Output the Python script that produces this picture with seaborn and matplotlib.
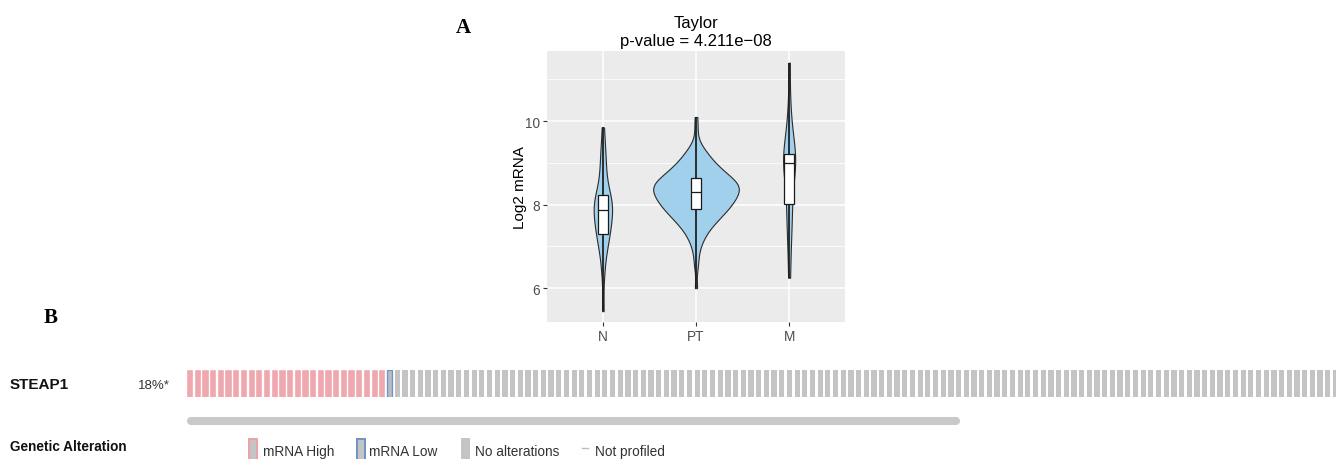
import numpy as np
import pandas as pd
import matplotlib
matplotlib.use("Agg")
import matplotlib.pyplot as plt
from matplotlib.lines import Line2D
from matplotlib.patches import Rectangle
import seaborn as sns

# ---------------- Panel A data (Taylor, Log2 mRNA) ----------------
groups = ["N", "PT", "M"]
n_values = [5.45, 6.35, 6.70, 6.95, 7.10, 7.20, 7.27, 7.30, 7.42, 7.52,
            7.60, 7.68, 7.76, 7.82, 7.87, 7.92, 7.98, 8.03, 8.08, 8.13,
            8.18, 8.22, 8.38, 8.55, 8.78, 9.00, 9.15, 9.40, 9.85]
pt_levels = [6.0, 6.5, 6.7, 6.9, 7.0, 7.1, 7.2, 7.3, 7.4, 7.5,
             7.6, 7.7, 7.8, 7.9, 8.0, 8.1, 8.2, 8.3, 8.4, 8.5, 8.6,
             8.7, 8.8, 8.9, 9.0, 9.1, 9.2, 9.3, 9.4, 9.5, 9.8, 10.1]
pt_counts = [1, 1, 1, 1, 1, 1, 2, 2, 3, 3,
             5, 5, 6, 7, 8, 8, 9, 9, 10, 10, 8,
             7, 6, 5, 4, 3, 3, 2, 1, 1, 1, 1]
m_values = [6.25, 6.90, 7.40, 7.60, 7.95, 8.10, 8.50, 8.80, 8.95, 9.00,
            9.05, 9.10, 9.15, 9.20, 9.24, 9.60, 9.90, 10.30, 11.40]
y_major = [6, 8, 10]
y_minor = [7, 9, 11]
title_text = "Taylor\np-value = 4.211e\u221208"
ylabel_text = "Log2 mRNA"

# ---------------- Panel B data (oncoprint) ----------------
gene_name = "STEAP1"
altered_pct = "18%*"
alteration_types = ["mRNA High", "mRNA Low", "No alterations"]
alteration_counts = [26, 1, 123]
legend_labels = ["mRNA High", "mRNA Low", "No alterations", "Not profiled"]
track_title = "Genetic Alteration"

# ---------------- styling ----------------
plt.rcParams["font.family"] = ["Liberation Sans", "DejaVu Sans"]
W, H = 1336, 460
fig = plt.figure(figsize=(W / 100, H / 100), dpi=100)


def fx(px):
    return px / W


def fy(py):
    return 1 - py / H


# ---------------- Panel A ----------------
pt_values = np.repeat(pt_levels, pt_counts)
df = pd.DataFrame({
    "group": ["N"] * len(n_values) + ["PT"] * len(pt_values) + ["M"] * len(m_values),
    "value": np.concatenate([n_values, pt_values, m_values]),
})

axA = fig.add_axes([fx(547), fy(323), fx(845) - fx(547), fy(52) - fy(323)])
axA.set_facecolor("#EBEBEB")
sns.violinplot(data=df, x="group", y="value", order=groups, ax=axA,
               inner=None, cut=0, density_norm="count", width=0.92,
               color="#a0d0eb", saturation=1, linecolor="#2b2b2b",
               linewidth=0.8, bw_adjust=0.75)
sns.boxplot(data=df, x="group", y="value", order=groups, ax=axA,
            width=0.11, color="white", saturation=1, linecolor="#1a1a1a",
            linewidth=0.9, whis=(0, 100), showfliers=False,
            whiskerprops={"linewidth": 1.25}, capprops={"linewidth": 0})

axA.set_xlim(-0.6, 2.6)
axA.set_ylim(5.19, 11.68)
axA.set_yticks(y_major)
axA.set_yticks(y_minor, minor=True)
axA.set_axisbelow(True)
axA.grid(True, which="major", axis="both", color="white", linewidth=1.1)
axA.grid(True, which="minor", axis="y", color="white", linewidth=0.55)
for s in axA.spines.values():
    s.set_visible(False)
axA.tick_params(which="major", length=3, width=0.8, color="#333333",
                labelcolor="#4D4D4D", labelsize=9.8, pad=2)
axA.tick_params(which="minor", length=0)
axA.set_xlabel("")
axA.set_ylabel(ylabel_text, fontsize=11, color="black")
axA.yaxis.set_label_coords((527 - 547) / 298, 0.5)

t_lines = title_text.split("\n")
fig.text(fx(696), fy(28), t_lines[0], ha="center", va="baseline", fontsize=12)
fig.text(fx(696), fy(46), t_lines[1], ha="center", va="baseline", fontsize=12)

# panel letters
fig.text(fx(456), fy(33), "A", fontsize=15, fontweight="bold",
         family=["Liberation Serif", "DejaVu Serif"], va="baseline")
fig.text(fx(44), fy(323), "B", fontsize=15, fontweight="bold",
         family=["Liberation Serif", "DejaVu Serif"], va="baseline")

# ---------------- Panel B ----------------
fill_colors = {"mRNA High": "#eda9af", "mRNA Low": "#b6bcc8", "No alterations": "#c4c4c4"}
edge_colors = {"mRNA High": "#f2a2a9", "mRNA Low": "#6f93c4", "No alterations": "none"}
edge_widths = {"mRNA High": 0.4, "mRNA Low": 0.9, "No alterations": 0.0}
samples = np.repeat(alteration_types, alteration_counts)
n_samples = len(samples)
pitch = 7.69
axB = fig.add_axes([fx(187), fy(398), n_samples * pitch / W, fy(371) - fy(398)])
axB.bar(np.arange(n_samples), np.ones(n_samples), width=0.68, align="edge",
        color=[fill_colors[s] for s in samples],
        edgecolor=[edge_colors[s] for s in samples],
        linewidth=[edge_widths[s] for s in samples])
axB.set_xlim(0, n_samples)
axB.set_ylim(0, 1)
axB.axis("off")

# scroll bar
fig.add_artist(Line2D([fx(191), fx(956)], [fy(421.7), fy(421.7)], lw=5.8,
                      color="#c9c9c9", solid_capstyle="round",
                      transform=fig.transFigure))

fig.text(fx(10), fy(389), gene_name, fontsize=11, fontweight="bold",
         va="baseline", color="#111111")
fig.text(fx(138), fy(389), altered_pct, fontsize=9.5, va="baseline", color="#333333")
fig.text(fx(10), fy(451), track_title, fontsize=9.8, fontweight="bold",
         va="baseline", color="#111111")

# legend
legend_fill = {"mRNA High": "#c4c4c4", "mRNA Low": "#c4c4c4", "No alterations": "#c4c4c4"}
legend_edge = {"mRNA High": "#f0a0a7", "mRNA Low": "#6f93c4", "No alterations": "#c4c4c4"}
sw = [(249, 257, "mRNA High"), (357, 364.5, "mRNA Low"), (462, 469, "No alterations")]
for x0, x1, lab in sw:
    fig.add_artist(Rectangle((fx(x0), fy(461)), fx(x1) - fx(x0), fy(440) - fy(461),
                             facecolor=legend_fill[lab], edgecolor=legend_edge[lab],
                             linewidth=1.4, transform=fig.transFigure))
fig.add_artist(Line2D([fx(582), fx(588)], [fy(449), fy(449)], lw=1.0,
                      color="#bdbdbd", transform=fig.transFigure))
label_x = [263, 369, 475, 595]
for x, lab in zip(label_x, legend_labels):
    fig.text(fx(x), fy(456), lab, fontsize=9.8, va="baseline", color="#333333")

fig.savefig("out.png", dpi=100)
